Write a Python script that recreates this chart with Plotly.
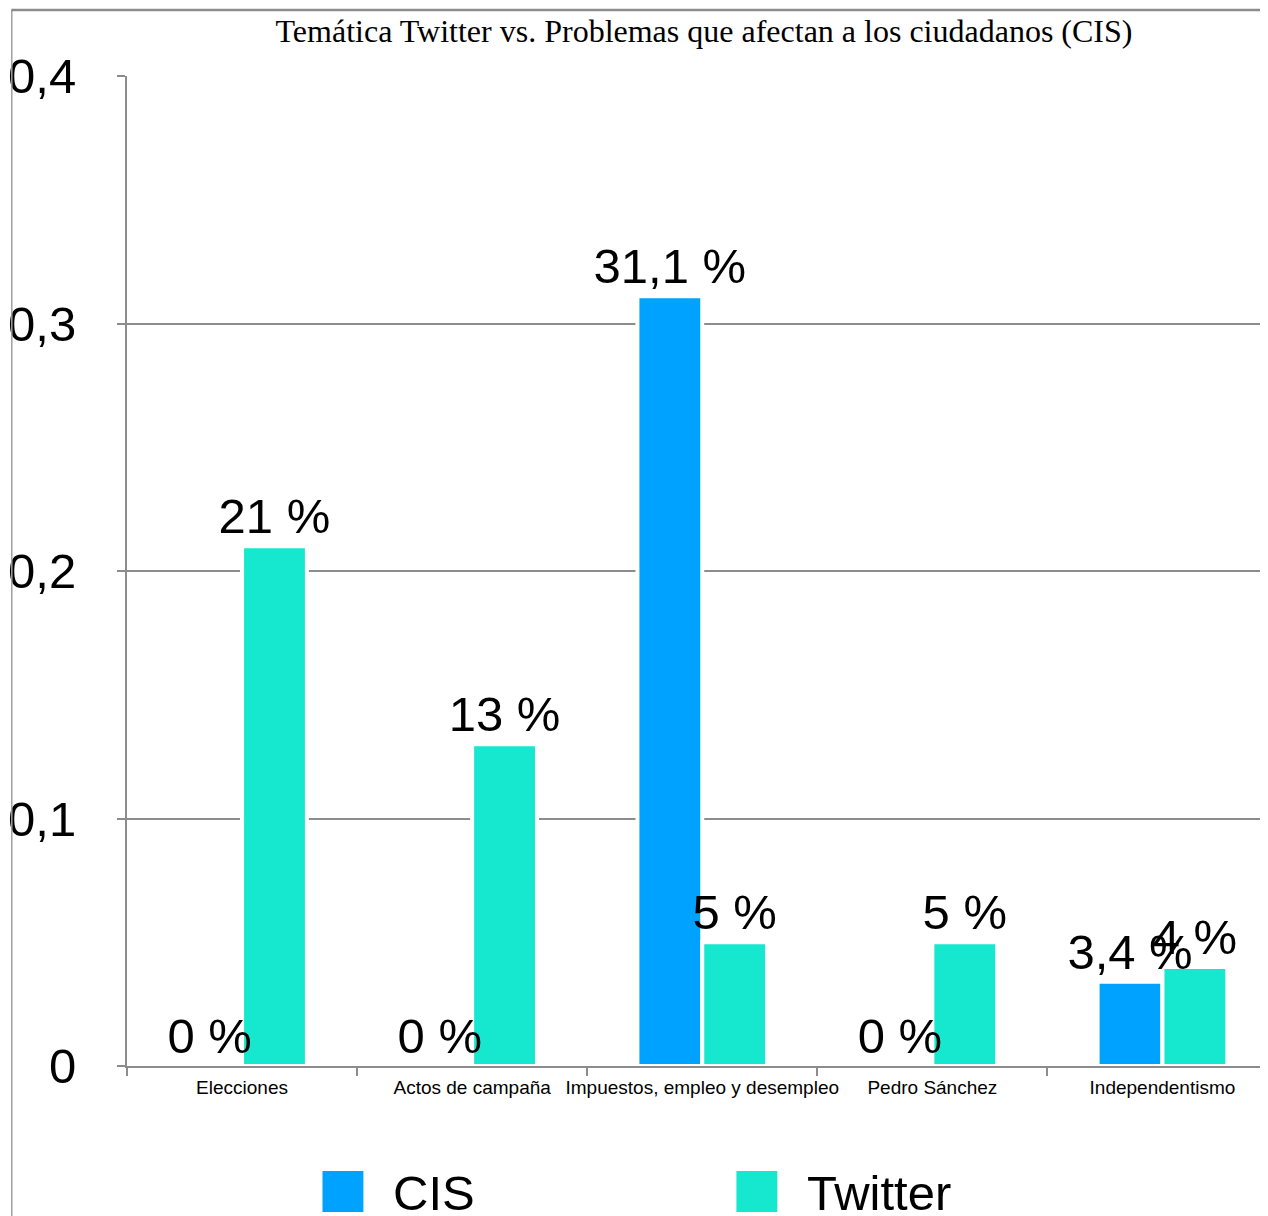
import plotly.graph_objects as go

categories = ["Elecciones", "Actos de campaña", "Impuestos, empleo y desempleo",
              "Pedro Sánchez", "Independentismo"]
series_names = ["CIS", "Twitter"]
cis_values = [0, 0, 0.311, 0, 0.034]
twitter_values = [0.21, 0.13, 0.05, 0.05, 0.04]
y_ticks = [0, 0.1, 0.2, 0.3, 0.4]
title_text = "Temática Twitter vs. Problemas que afectan a los ciudadanos (CIS)"

colors = ["#00A2FF", "#16E7CF"]
SANS = "Liberation Sans, Arial, Helvetica, sans-serif"
SERIF = "Liberation Serif, Times New Roman, serif"


def pct_label(v):
    return format(round(v * 100, 2), "g").replace(".", ",") + " %"


W, H = 1268, 1216
L, R, T, B = 116, 0, 68, 158
pw, ph = W - L - R, H - T - B
cat_px = 230.7
slot = 65 / cat_px  # width of one bar, in category units


def px_x(px):
    return (px - L) / pw


def px_y(py):
    return (H - B - py) / ph


fig = go.Figure()
series = [(series_names[0], cis_values, colors[0], -slot),
          (series_names[1], twitter_values, colors[1], 0.0)]
# coloured bars first
for name, vals, col, off in series:
    fig.add_trace(go.Bar(
        x=categories, y=vals, name=name,
        width=slot, offset=off,
        marker=dict(color=col, line=dict(color="white", width=4)),
        showlegend=False, hoverinfo="skip",
    ))
# value labels on top of every bar
for name, vals, col, off in series:
    fig.add_trace(go.Bar(
        x=categories, y=vals, name=name + " labels",
        width=slot, offset=off,
        marker=dict(color="rgba(0,0,0,0)", line=dict(width=0)),
        text=[pct_label(v) for v in vals],
        textposition="outside",
        constraintext="none",
        cliponaxis=False,
        textfont=dict(family=SANS, size=49, color="black"),
        showlegend=False,
    ))

shapes = [
    dict(type="line", xref="paper", yref="paper", x0=px_x(0.5), x1=px_x(0.5),
         y0=px_y(2), y1=px_y(1230), line=dict(color="#a0a0a0", width=1.5)),
    dict(type="line", xref="paper", yref="paper", x0=px_x(0), x1=px_x(1280),
         y0=px_y(2), y1=px_y(2), line=dict(color="#8c8c8c", width=2.5)),
]
annotations = []
legend_pos = [(312, 381), (727, 796)]
for (sx, tx), name, col in zip(legend_pos, series_names, colors):
    shapes.append(dict(type="rect", xref="paper", yref="paper",
                       x0=px_x(sx), x1=px_x(sx + 41), y0=px_y(1204), y1=px_y(1163),
                       fillcolor=col, line=dict(width=0)))
    annotations.append(dict(xref="paper", yref="paper", x=px_x(tx), y=px_y(1185),
                            xanchor="left", yanchor="middle", showarrow=False,
                            text=name,
                            font=dict(family=SANS, size=49, color="black")))

fig.update_layout(
    width=W, height=H,
    margin=dict(l=L, r=R, t=T, b=B, pad=0),
    paper_bgcolor="white", plot_bgcolor="white",
    separators=", ",
    barmode="overlay",
    title=dict(text=title_text, x=696 / W, xanchor="center", y=1 - 23 / H, yanchor="middle",
               font=dict(family=SERIF, size=32, color="black")),
    xaxis=dict(range=[-0.5, -0.5 + pw / cat_px], showline=True, linecolor="#8c8c8c", linewidth=2,
               ticks="outside", tickson="boundaries", ticklen=8, tickwidth=2, tickcolor="#8c8c8c",
               showgrid=False, tickangle=0, ticklabelstandoff=3,
               tickfont=dict(family=SANS, size=19, color="black")),
    yaxis=dict(range=[0, 0.4], tickvals=y_ticks, showline=True, linecolor="#8c8c8c", linewidth=2,
               ticks="outside", ticklen=8, tickwidth=2, tickcolor="#8c8c8c",
               showgrid=True, gridcolor="#8c8c8c", gridwidth=2, zeroline=False,
               ticklabelstandoff=31,
               tickfont=dict(family=SANS, size=49, color="black")),
    shapes=shapes,
    annotations=annotations,
)

fig.write_html("out.html")
